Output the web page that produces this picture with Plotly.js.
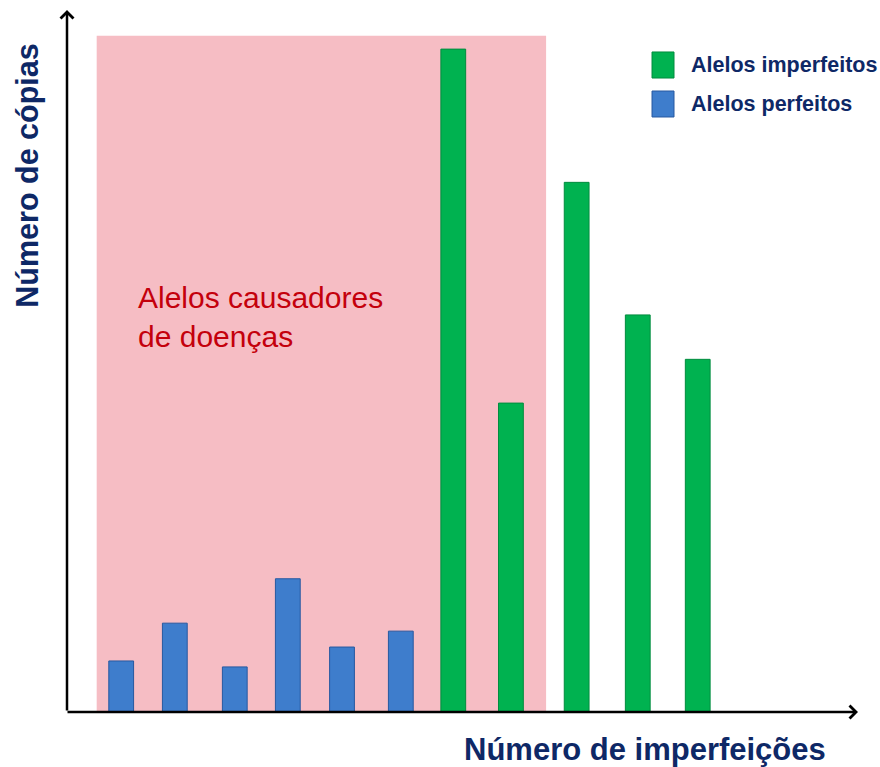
<!DOCTYPE html>
<html>
<head>
<meta charset="utf-8">
<script src="https://cdn.plot.ly/plotly-3.0.1.min.js"></script>
<style>html,body{margin:0;padding:0;background:#fff}#chart{width:880px;height:767px}</style>
</head>
<body>
<div id="chart"></div>
<script>
// Data (arbitrary units)
const perfeitosName = "Alelos perfeitos";
const imperfeitosName = "Alelos imperfeitos";
const perfeitosX = [0.94, 1.87, 2.91, 3.83, 4.77, 5.79];
const perfeitosY = [7.7, 13.4, 6.8, 20.1, 9.8, 12.2];
const imperfeitosX = [6.70, 7.70, 8.84, 9.90, 10.94];
const imperfeitosY = [100, 46.6, 79.9, 59.9, 53.2];
const regionLabel = "Alelos causadores<br>de doenças";
const regionX = [0.515, 8.31];
const xTitle = "Número de imperfeições";
const yTitle = "Número de cópias";

const navy = "rgb(14,40,102)";
const blue = "rgb(62,125,204)";
const green = "rgb(0,178,80)";
const font = "Liberation Sans, Arial, sans-serif";

const traces = [
  {type: "bar", name: perfeitosName, x: perfeitosX, y: perfeitosY, width: 0.43,
   marker: {color: blue, line: {color: "rgb(38,88,160)", width: 1}}, showlegend: false, hoverinfo: "skip"},
  {type: "bar", name: imperfeitosName, x: imperfeitosX, y: imperfeitosY, width: 0.43,
   marker: {color: green, line: {color: "rgb(0,140,62)", width: 1}}, showlegend: false, hoverinfo: "skip"}
];

const legendItems = [
  {name: imperfeitosName, color: green, line: "rgb(0,140,62)", y0: 0.9031, y1: 0.9402, ty: 0.9217},
  {name: perfeitosName, color: blue, line: "rgb(38,88,160)", y0: 0.8476, y1: 0.8846, ty: 0.8661}
];

const shapes = [
  {type: "rect", xref: "x", yref: "y", x0: regionX[0], x1: regionX[1], y0: 0, y1: 102,
   fillcolor: "rgb(246,189,196)", line: {width: 0}, layer: "below"}
];
legendItems.forEach(it => shapes.push({type: "rect", xref: "paper", yref: "paper",
  x0: 0.7396, x1: 0.7674, y0: it.y0, y1: it.y1, fillcolor: it.color, line: {color: it.line, width: 1}}));

const annotations = [
  {xref: "paper", yref: "paper", x: 0, y: 1, ax: 0, ay: 702, text: "", showarrow: true,
   arrowhead: 4, arrowsize: 1.0, arrowwidth: 2.5, arrowcolor: "#000", standoff: 0},
  {xref: "paper", yref: "paper", x: 1, y: 0, ax: -792, ay: 0, text: "", showarrow: true,
   arrowhead: 4, arrowsize: 1.0, arrowwidth: 2.5, arrowcolor: "#000", standoff: 0},
  {xref: "paper", yref: "paper", x: 0.0872, y: 0.5625, xanchor: "left", yanchor: "middle", align: "left",
   text: regionLabel, showarrow: false, font: {family: font, size: 30, color: "rgb(196,0,12)"}},
  {xref: "paper", yref: "paper", x: -0.0493, y: 0.764, textangle: -90, xanchor: "center", yanchor: "middle",
   text: "<b>" + yTitle + "</b>", showarrow: false, font: {family: font, size: 30.5, color: navy}},
  {xref: "paper", yref: "paper", x: 0.7307, y: -0.0541, xanchor: "center", yanchor: "middle",
   text: "<b>" + xTitle + "</b>", showarrow: false, font: {family: font, size: 31, color: navy}}
];
legendItems.forEach(it => annotations.push({xref: "paper", yref: "paper", x: 0.7865, y: it.ty,
  xanchor: "left", yanchor: "middle", text: "<b>" + it.name + "</b>", showarrow: false,
  font: {family: font, size: 21.5, color: navy}}));

const layout = {
  width: 880, height: 767,
  margin: {l: 67, r: 22, t: 10, b: 55, autoexpand: false},
  paper_bgcolor: "#fff", plot_bgcolor: "rgba(0,0,0,0)",
  xaxis: {range: [0, 13.72], showgrid: false, zeroline: false, showline: false, showticklabels: false, ticks: ""},
  yaxis: {range: [0, 105.9], showgrid: false, zeroline: false, showline: false, showticklabels: false, ticks: ""},
  shapes: shapes, annotations: annotations, showlegend: false, font: {family: font}
};

Plotly.newPlot("chart", traces, layout, {staticPlot: true});
</script>
</body>
</html>
